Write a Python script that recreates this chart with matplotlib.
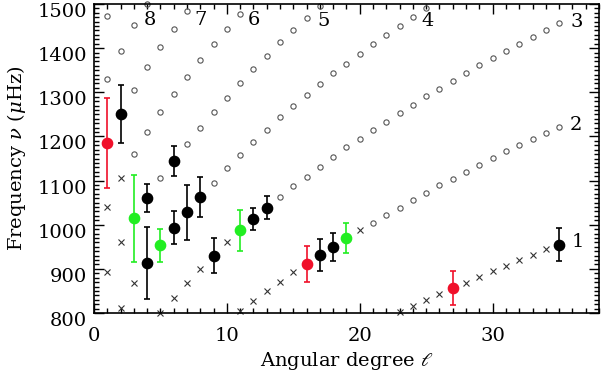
import matplotlib
matplotlib.use("Agg")
import matplotlib.pyplot as plt
from matplotlib.ticker import MultipleLocator
from matplotlib.transforms import ScaledTranslation

# model modes, one set of arrays per ridge (n label), open circles and crosses
r1_cross_l = [23, 24, 25, 26, 28, 29, 30, 31, 32, 33, 34]
r1_cross_nu = [803, 816.5, 829, 843, 869, 882, 895.5, 907, 920, 932, 944]

r2_cross_l = [11, 12, 13, 14, 15, 20]
r2_cross_nu = [804, 827, 850, 871, 892, 987]
r2_circ_l = [21, 22, 23, 24, 25, 26, 27, 28, 29, 30, 31, 32, 33, 34, 35]
r2_circ_nu = [1005, 1022, 1039, 1056, 1072, 1089, 1104, 1119, 1135, 1151,
              1166, 1180, 1195, 1208, 1222]

r3_cross_l = [5, 6, 7, 8, 10]
r3_cross_nu = [801, 834.5, 867, 900, 960]
r3_circ_l = [14, 15, 16, 17, 18, 19, 20, 21, 22, 23, 24, 25, 26, 27, 28,
             29, 30, 31, 32, 33, 34, 35]
r3_circ_nu = [1063.5, 1087, 1109, 1131, 1153, 1175, 1195, 1215, 1233.5, 1253,
              1272, 1291, 1307, 1325, 1343, 1361, 1377, 1394, 1410, 1426,
              1442, 1457]

r4_cross_l = [2, 3]
r4_cross_nu = [812, 867]
r4_circ_l = [9, 10, 11, 12, 13, 14, 15, 16, 17, 18, 19, 20, 21, 22, 23, 24, 25]
r4_circ_nu = [1095, 1128, 1158, 1188, 1215, 1243, 1269, 1294, 1319, 1343,
              1365, 1387, 1409, 1430, 1450, 1471, 1490]

r5_cross_l = [1, 2]
r5_cross_nu = [893, 960]
r5_circ_l = [5, 7, 8, 9, 10, 11, 12, 13, 14, 15, 16, 17]
r5_circ_nu = [1105.5, 1183, 1219, 1255, 1288, 1322, 1352, 1383, 1413, 1440,
              1469, 1495]

r6_cross_l = [1, 2]
r6_cross_nu = [1040, 1105.5]
r6_circ_l = [3, 4, 5, 6, 7, 8, 9, 10, 11]
r6_circ_nu = [1160.6, 1211, 1255, 1296, 1335, 1373, 1409, 1444, 1478]

r7_circ_l = [3, 4, 5, 6, 7]
r7_circ_nu = [1306, 1357, 1403, 1444, 1484]

r8_circ_l = [1, 2, 3, 4]
r8_circ_nu = [1330, 1394.5, 1452, 1499]

r9_circ_l = [1]
r9_circ_nu = [1473]

# observed frequencies with errors
black_l = [2, 4, 4, 6, 6, 7, 8, 9, 12, 13, 17, 18, 35]
black_nu = [1251, 1060, 913, 1145, 993, 1028, 1062, 930, 1014, 1039, 932, 950, 955]
black_err = [65, 32, 82, 34, 37, 63, 45, 40, 25, 25, 36, 32, 37]

green_l = [3, 5, 11, 19]
green_nu = [1014.5, 953.5, 987, 969]
green_err = [98, 37.5, 46, 34]

red_l = [1, 16, 27]
red_nu = [1185, 911, 857]
red_err = [101, 40, 39]

# ridge labels
label_text = ["8", "7", "6", "5", "4", "3", "2", "1"]
label_l = [4.2, 8.05, 12.0, 17.3, 25.1, 36.3, 36.3, 36.4]
label_nu = [1463, 1463, 1463, 1461, 1461, 1460, 1227, 960]

plt.rcParams['font.family'] = ['DejaVu Serif']
plt.rcParams['mathtext.fontset'] = 'dejavuserif'

fig = plt.figure(figsize=(6.05, 3.75), dpi=100)
ax = fig.add_axes([0.1554, 0.1653, 0.990 - 0.1554, 0.9893 - 0.1653])

circ_l = r2_circ_l + r3_circ_l + r4_circ_l + r5_circ_l + r6_circ_l + r7_circ_l + r8_circ_l + r9_circ_l
circ_nu = r2_circ_nu + r3_circ_nu + r4_circ_nu + r5_circ_nu + r6_circ_nu + r7_circ_nu + r8_circ_nu + r9_circ_nu
cross_l = r1_cross_l + r2_cross_l + r3_cross_l + r4_cross_l + r5_cross_l + r6_cross_l
cross_nu = r1_cross_nu + r2_cross_nu + r3_cross_nu + r4_cross_nu + r5_cross_nu + r6_cross_nu

ax.plot(circ_l, circ_nu, 'o', ls='none', ms=3.8, mfc='none', mec='#555555',
        mew=0.8, clip_on=False, zorder=2)
ax.plot(cross_l, cross_nu, 'x', ls='none', ms=3.8, color='#333333',
        mew=0.8, clip_on=False, zorder=2)

for l, nu, err, col in [(black_l, black_nu, black_err, 'black'),
                        (green_l, green_nu, green_err, '#22ee22'),
                        (red_l, red_nu, red_err, '#f0102a')]:
    ax.errorbar(l, nu, yerr=err, fmt='o', ms=7.4, color=col, ecolor=col,
                elinewidth=1.2, capsize=2.2, capthick=1.2, zorder=3)

for t, l, nu in zip(label_text, label_l, label_nu):
    ax.text(l, nu, t, ha='center', va='center', fontsize=14)

ax.set_xlim(0, 38)
ax.set_ylim(800, 1500)
ax.xaxis.set_major_locator(MultipleLocator(10))
ax.xaxis.set_minor_locator(MultipleLocator(1))
ax.yaxis.set_major_locator(MultipleLocator(100))
ax.yaxis.set_minor_locator(MultipleLocator(10))
ax.tick_params(which='both', direction='in', top=True, right=True, width=1.0,
               labelsize=14)
ax.tick_params(which='major', length=7)
ax.tick_params(which='minor', length=3.5)
ax.tick_params(axis='x', pad=10)
ax.tick_params(axis='y', pad=5)
for s in ax.spines.values():
    s.set_linewidth(1.2)

offset = ScaledTranslation(0, -6 / 100, fig.dpi_scale_trans)
for lab in ax.get_yticklabels():
    lab.set_transform(lab.get_transform() + offset)

ax.set_xlabel(r'Angular degree $\ell$', fontsize=14, labelpad=4)
ax.set_ylabel(r'Frequency $\nu$ ($\mu$Hz)', fontsize=14, labelpad=7)

fig.savefig('out.png', dpi=100)
